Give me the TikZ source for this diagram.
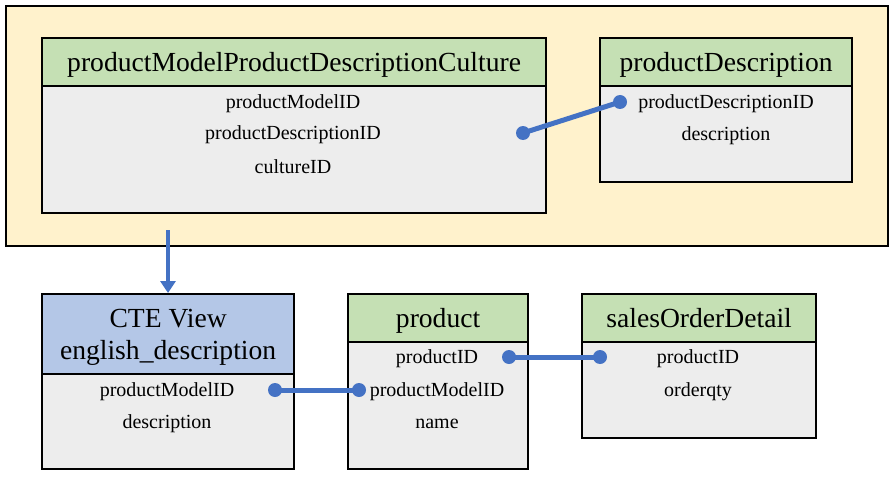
\documentclass[tikz,border=0pt]{standalone}
\usepackage{fontspec}
\setmainfont{Liberation Serif}
\usetikzlibrary{arrows.meta}
\definecolor{grpfill}{HTML}{FFF2CC}
\definecolor{hdrgreen}{HTML}{C5E0B4}
\definecolor{hdrblue}{HTML}{B4C7E7}
\definecolor{bodygray}{HTML}{EDEDED}
\definecolor{connblue}{HTML}{4472C4}
\tikzset{
  grpbox/.style={draw=black, line width=2.2pt, fill=grpfill, anchor=north west, inner sep=0pt},
  hdr/.style={draw=black, line width=2.2pt, fill=hdrgreen, anchor=north west, inner sep=0pt,
    font=\fontsize{27.6}{32}\selectfont, align=center, text depth=0pt},
  hdrb/.style={hdr, fill=hdrblue},
  tbody/.style={draw=black, line width=2.2pt, fill=bodygray, anchor=north west, inner sep=0pt},
  fld/.style={font=\fontsize{20}{24}\selectfont, inner sep=0pt, yshift=-2pt},
  dot/.style={circle, fill=connblue, minimum size=14pt, inner sep=0pt},
  conn/.style={draw=connblue, line width=5pt},
  arr/.style={draw=connblue, line width=3.5pt, -{Triangle[width=15pt,length=12pt]}}
}
\begin{document}
\begin{tikzpicture}[x=1pt,y=-1pt]
\useasboundingbox (0,0) rectangle (893,476);
% group
\node[grpbox, minimum width=882, minimum height=240] (grp) at (5,5) {};
% box 1
\node[tbody, minimum width=504, minimum height=175] (b1) at (41,37) {};
\node[hdr, minimum width=504, minimum height=48] (h1) at (41,37) {productModelProductDescriptionCulture};
\node[fld] (f11) at (293,102) {productModelID};
\node[fld] (f12) at (293,133) {productDescriptionID};
\node[fld] (f13) at (293,165) {cultureID};
% box 2
\node[tbody, minimum width=252, minimum height=144] (b2) at (599,37) {};
\node[hdr, minimum width=252, minimum height=48] (h2) at (599,37) {productDescription};
\node[fld] (f21) at (726,102) {productDescriptionID};
\node[fld] (f22) at (726,134) {description};
% box 3
\node[tbody, minimum width=252, minimum height=175] (b3) at (41,293) {};
\node[hdrb, minimum width=252, minimum height=80] (h3) at (41,293) {CTE View\\english\_description};
\node[fld] (f31) at (167,390) {productModelID};
\node[fld] (f32) at (167,422) {description};
% box 4
\node[tbody, minimum width=180, minimum height=175] (b4) at (347,293) {};
\node[hdr, minimum width=180, minimum height=48] (h4) at (347,293) {product};
\node[fld] (f41) at (437,357) {productID};
\node[fld] (f42) at (437,390) {productModelID};
\node[fld] (f43) at (437,422) {name};
% box 5
\node[tbody, minimum width=234, minimum height=144] (b5) at (581,293) {};
\node[hdr, minimum width=234, minimum height=48] (h5) at (581,293) {salesOrderDetail};
\node[fld] (f51) at (698,357) {productID};
\node[fld] (f52) at (698,390) {orderqty};
% connectors
\node[dot] (d1) at (523,133) {};
\node[dot] (d2) at (620,102) {};
\draw[conn] (d1.center) -- (d2.center);
\node[dot] (d3) at (275,390) {};
\node[dot] (d4) at (359,390) {};
\draw[conn] (d3.center) -- (d4.center);
\node[dot] (d5) at (509,357) {};
\node[dot] (d6) at (600,357) {};
\draw[conn] (d5.center) -- (d6.center);
% arrow
\coordinate (a0) at (168,230);
\draw[arr] (a0) -- (a0 |- h3.north);
\end{tikzpicture}
\end{document}
